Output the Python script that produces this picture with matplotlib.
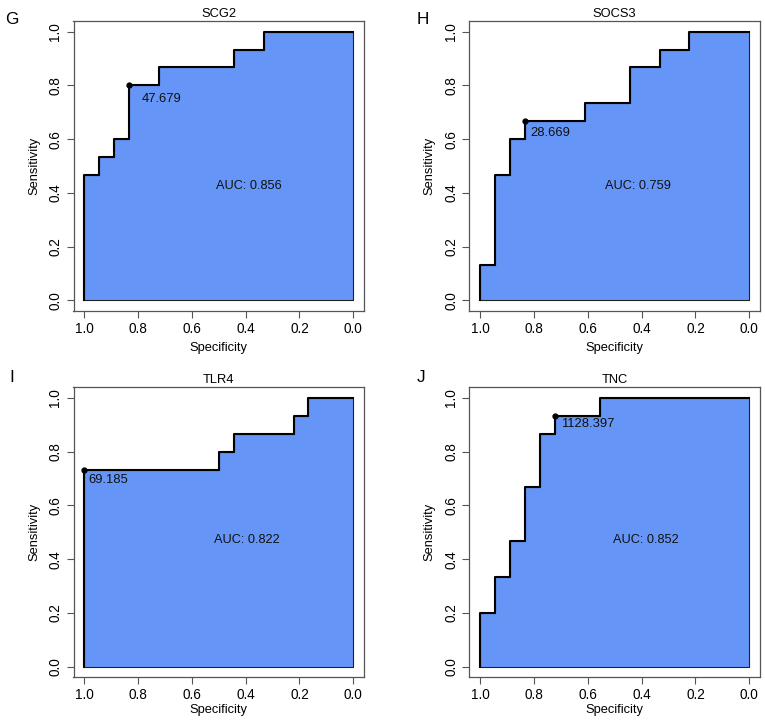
import matplotlib
matplotlib.use("Agg")
import matplotlib.pyplot as plt

plt.rcParams['font.family'] = ['Liberation Sans', 'DejaVu Sans']

# ---------------- data ----------------
panel_letters = ["G", "H", "I", "J"]
gene_names = ["SCG2", "SOCS3", "TLR4", "TNC"]
auc_values = [0.856, 0.759, 0.822, 0.852]

scg2_spec = [1.0, 1.0, 0.944, 0.889, 0.833, 0.722, 0.444, 0.333, 0.0]
scg2_sens = [0.0, 0.467, 0.533, 0.600, 0.800, 0.867, 0.933, 1.0, 1.0]

socs3_spec = [1.0, 1.0, 0.944, 0.889, 0.833, 0.611, 0.444, 0.333, 0.222, 0.0]
socs3_sens = [0.0, 0.133, 0.467, 0.600, 0.667, 0.733, 0.867, 0.933, 1.0, 1.0]

tlr4_spec = [1.0, 1.0, 0.500, 0.444, 0.222, 0.167, 0.0]
tlr4_sens = [0.0, 0.733, 0.800, 0.867, 0.933, 1.0, 1.0]

tnc_spec = [1.0, 1.0, 0.944, 0.889, 0.833, 0.778, 0.722, 0.556, 0.0]
tnc_sens = [0.0, 0.200, 0.333, 0.467, 0.667, 0.867, 0.933, 1.0, 1.0]

# best thresholds (label, specificity, sensitivity)
thr_labels = ["47.679", "28.669", "69.185", "1128.397"]
thr_spec = [0.833, 0.833, 1.0, 0.722]
thr_sens = [0.800, 0.667, 0.733, 0.933]

tick_values = [1.0, 0.8, 0.6, 0.4, 0.2, 0.0]
tick_labels = ["1.0", "0.8", "0.6", "0.4", "0.2", "0.0"]

specs = [scg2_spec, socs3_spec, tlr4_spec, tnc_spec]
senss = [scg2_sens, socs3_sens, tlr4_sens, tnc_sens]

# ---------------- layout / style ----------------
W, H = 765, 723
fig = plt.figure(figsize=(W / 100, H / 100), dpi=100)

# axes boxes in pixels (left, top, right, bottom)
boxes = [(73.5, 21, 364, 311), (469.3, 21, 760, 311),
         (73.5, 387.3, 364, 677.3), (469.3, 387.3, 760, 677.3)]
letter_pos = [(5, 19), (417, 19), (9, 378), (417, 378)]
thr_offsets = [(9, -9.5), (3.5, -8.8), (3.2, -7.5), (4.5, -5.5)]
auc_pos = [(0.39, 0.427), (0.415, 0.427), (0.394, 0.472), (0.383, 0.472)]
xlabel_pads = [4.5, 4.5, 1.5, 1.5]

fill_col = '#6596F7'
spine_col = '#555555'

for i in range(4):
    l, t, r, b = boxes[i]
    ax = fig.add_axes([l / W, 1 - b / H, (r - l) / W, (b - t) / H])
    spec = specs[i]
    sens = senss[i]
    ax.fill_between(spec, sens, 0, step='post', facecolor=fill_col,
                    edgecolor='#222222', linewidth=0.8, zorder=1)
    ax.step(spec, sens, where='post', color='black', linewidth=1.5, zorder=2)
    ax.plot([thr_spec[i]], [thr_sens[i]], 'o', color='black', markersize=3.5, zorder=3)
    ax.annotate(thr_labels[i], (thr_spec[i], thr_sens[i]), xytext=thr_offsets[i],
                textcoords='offset points', ha='left', va='center', fontsize=9.4,
                color='#111111', zorder=4)
    ax.text(auc_pos[i][0], auc_pos[i][1], f"AUC: {auc_values[i]:.3f}", ha='center',
            va='center', fontsize=9.2, color='#111111', zorder=4)

    ax.set_xlim(1.04, -0.04)
    ax.set_ylim(-0.04, 1.04)
    ax.set_xticks(tick_values)
    ax.set_xticklabels(tick_labels, fontsize=9.8)
    ax.set_yticks(tick_values)
    ax.set_yticklabels(tick_labels, fontsize=9.8, rotation=90, va='center')
    ax.tick_params(length=5, width=0.8, color=spine_col, pad=3)
    for s in ax.spines.values():
        s.set_color(spine_col)
        s.set_linewidth(0.9)
    ax.set_xlabel("Specificity", fontsize=9.3, labelpad=xlabel_pads[i])
    ax.set_ylabel("Sensitivity", fontsize=9.3, labelpad=6)
    ax.set_title(gene_names[i], fontsize=9.3, pad=3)

    fig.text(letter_pos[i][0] / W, 1 - letter_pos[i][1] / H, panel_letters[i],
             fontsize=12.3, ha='left', va='center')

fig.savefig("out.png", dpi=100)
